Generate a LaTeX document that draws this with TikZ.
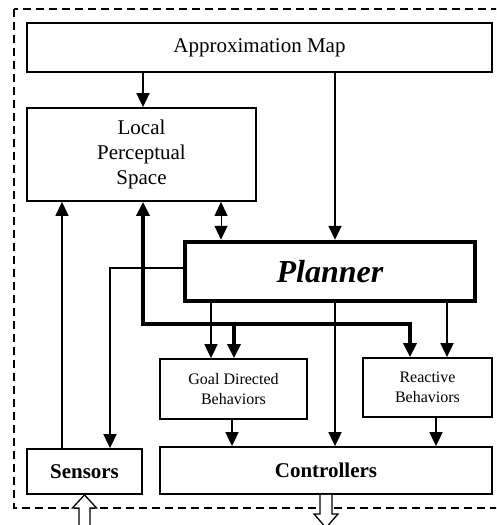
\documentclass[tikz,border=0pt]{standalone}
\usepackage{fontspec}
\setmainfont{Liberation Serif}
\usetikzlibrary{arrows.meta}
\begin{document}
\begin{tikzpicture}[x=1pt,y=-1pt,
  box/.style={draw, line width=1.8pt, inner sep=0pt, align=center},
  bigtxt/.style={font=\fontsize{21}{25}\selectfont},
  smalltxt/.style={font=\fontsize{16}{20}\selectfont},
  tip/.tip={Triangle[length=14pt,width=13pt]},
  conn/.style={line width=1.8pt, -tip},
  thinconn/.style={line width=1pt},
  thickconn/.style={line width=4pt, line join=miter, -tip},
  hollow/.style={draw, line width=1.3pt, fill=white, line join=miter}
]
\clip (0,0) rectangle (496,525);
\fill[white] (0,0) rectangle (496,525);
% dashed system border
\draw[line width=1.3pt, dash pattern=on 8pt off 5pt] (14,9) rectangle (505,508);

% boxes
\node[box, bigtxt, minimum width=465pt, minimum height=49pt] (approx) at (259.5,47.5) {Approximation Map};
\node[box, bigtxt, minimum width=229pt, minimum height=93pt] (lps) at (141.5,154.5) {Local\\Perceptual\\Space};
\node[box, line width=4.5pt, minimum width=290pt, minimum height=59pt, font=\fontsize{32}{36}\selectfont\bfseries\itshape] (planner) at (330,271.5) {Planner};
\node[box, smalltxt, minimum width=147pt, minimum height=60pt] (goal) at (233.5,389) {Goal Directed\\Behaviors};
\node[box, smalltxt, minimum width=129pt, minimum height=59pt] (reactive) at (427.5,387.5) {Reactive\\Behaviors};
\node[box, bigtxt, font=\fontsize{21}{25}\selectfont\bfseries, minimum width=115pt, minimum height=45pt] (sensors) at (84.5,471.5) {Sensors};
\node[box, bigtxt, font=\fontsize{21}{25}\selectfont\bfseries, minimum width=332pt, minimum height=47pt] (controllers) at (326,470.5) {Controllers};

% guide coordinates
\coordinate (xa) at (143,0);
\coordinate (xb) at (335,0);
\coordinate (xc) at (221,0);
\coordinate (xd) at (62,0);
\coordinate (xe) at (110,0);
\coordinate (yf) at (0,268);
\coordinate (yt) at (0,324);
\coordinate (xg) at (234,0);
\coordinate (xh) at (410,0);
\coordinate (xi) at (211,0);
\coordinate (xj) at (447,0);
\coordinate (xk) at (232,0);
\coordinate (xl) at (436,0);

% connectors
\draw[conn] (approx.south -| xa) -- (lps.north -| xa);
\draw[conn] (approx.south -| xb) -- (planner.north -| xb);
\draw[thinconn, tip-tip] (lps.south -| xc) -- (planner.north -| xc);
\draw[conn, line width=1.3pt] (sensors.north -| xd) -- (lps.south -| xd);
\draw[conn, line join=miter] (planner.west |- yf) -| (sensors.north -| xe);
\draw[thickconn, tip-tip] (lps.south -| xa) -- (xa |- yt) -- (xh |- yt) -- (reactive.north -| xh);
\draw[thickconn] (xg |- yt) -- (goal.north -| xg);
\draw[conn] (planner.south -| xi) -- (goal.north -| xi);
\draw[conn] (planner.south -| xb) -- (controllers.north -| xb);
\draw[conn] (planner.south -| xj) -- (reactive.north -| xj);
\draw[conn] (goal.south -| xk) -- (controllers.north -| xk);
\draw[conn] (reactive.south -| xl) -- (controllers.north -| xl);

% hollow input / output arrows
\draw[hollow] (sensors.south) -- ++(12,13) -- ++(-6.5,0) -- ++(0,20) -- ++(-11,0) -- ++(0,-20) -- ++(-6.5,0) -- cycle;
\draw[hollow] (controllers.south) ++(-6,0) -- ++(0,19) -- ++(-6,0) -- ++(12,14) -- ++(12,-14) -- ++(-6,0) -- ++(0,-19);
\end{tikzpicture}
\end{document}
